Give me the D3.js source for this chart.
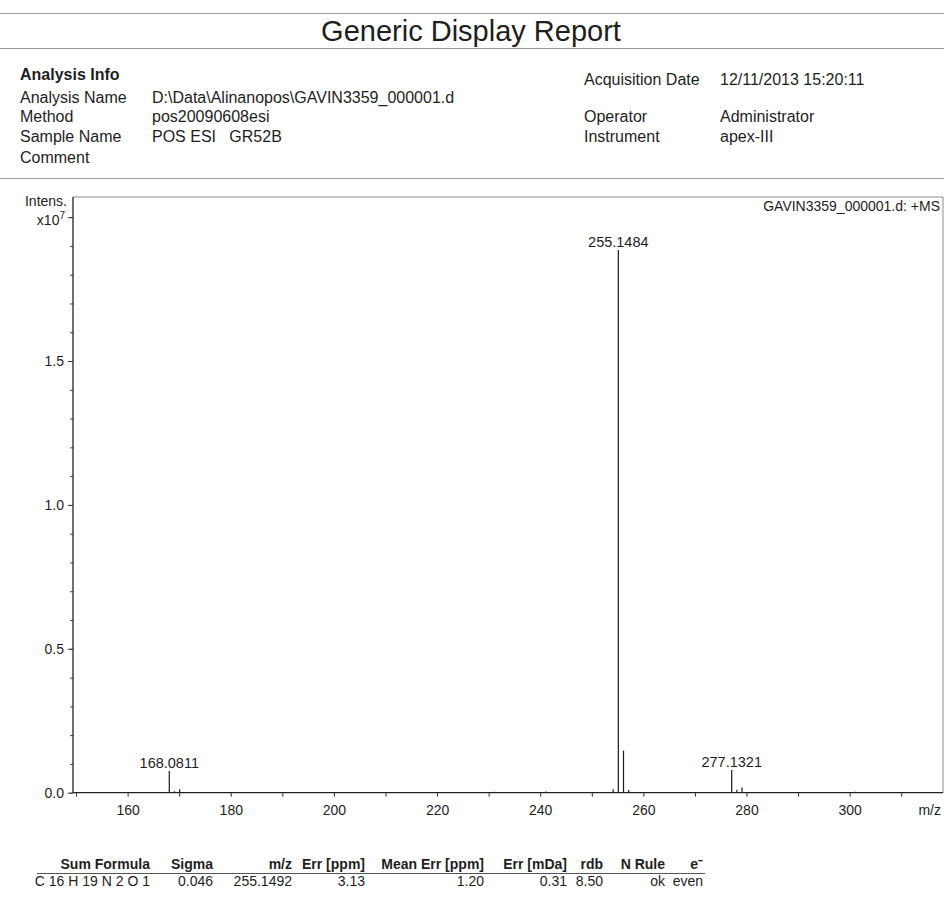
<!DOCTYPE html>
<html>
<head>
<meta charset="utf-8">
<script src="https://cdn.jsdelivr.net/npm/d3@7/dist/d3.min.js"></script>
<style>
  html, body { margin: 0; padding: 0; background: #fff; }
  svg { display: block; font-family: "Liberation Sans", Arial, Helvetica, sans-serif; }
  text { fill: #1e1e1e; }
</style>
</head>
<body>
<svg id="report" width="944" height="907"></svg>
<script>
// ---- Report metadata ----
const reportTitle = "Generic Display Report";
const infoLeftLabels = ["Analysis Name", "Method", "Sample Name", "Comment"];
const infoLeftValues = ["D:\\Data\\Alinanopos\\GAVIN3359_000001.d", "pos20090608esi", "POS ESI   GR52B", ""];
const infoRightLabels = ["Acquisition Date", "Operator", "Instrument"];
const infoRightValues = ["12/11/2013 15:20:11", "Administrator", "apex-III"];
const spectrumTitle = "GAVIN3359_000001.d: +MS";

// ---- Spectrum data (m/z, intensity in units of 1e7) ----
const peakMz        = [168.0811, 169.084, 170.085, 231.0, 241.1, 254.14, 255.1484, 256.152, 257.155, 277.1321, 278.135, 279.130, 301.1];
const peakIntensity = [0.075,    0.005,   0.012,   0.003, 0.004, 0.012,  1.886,    0.146,   0.009,   0.079,    0.010,   0.018,   0.003];
const labelledPeaks = [168.0811, 255.1484, 277.1321];

// ---- Axis ticks ----
const xTickValues = d3.range(150, 311, 10);
const xLabelValues = [160, 180, 200, 220, 240, 260, 280, 300];
const yMajorTicks = [0, 0.5, 1.0, 1.5, 2.0];
const yMinorTicks = d3.range(0, 2.01, 0.1).map(v => +v.toFixed(1));

// ---- Formula table ----
const tableHeaders = ["Sum Formula", "Sigma", "m/z", "Err [ppm]", "Mean Err [ppm]", "Err [mDa]", "rdb", "N Rule", "e\u207B"];
const tableRow = ["C 16 H 19 N 2 O 1", "0.046", "255.1492", "3.13", "1.20", "0.31", "8.50", "ok", "even"];

const svg = d3.select("#report");
svg.append("rect").attr("width", 944).attr("height", 907).attr("fill", "#fff");

// ---- Page header ----
const rule = (y, x1 = 0, x2 = 944) => svg.append("line")
  .attr("x1", x1).attr("x2", x2).attr("y1", y).attr("y2", y)
  .attr("stroke", "#9a9a9a").attr("stroke-width", 1);

rule(13.5);
svg.append("text").attr("x", 471).attr("y", 41).attr("text-anchor", "middle")
  .attr("font-size", 29).text(reportTitle);
rule(48.5);

svg.append("text").attr("x", 20).attr("y", 80).attr("font-size", 16)
  .attr("font-weight", "bold").text("Analysis Info");

const infoRowY = [103, 122, 142, 163];
infoLeftLabels.forEach((lab, i) => {
  svg.append("text").attr("x", 20).attr("y", infoRowY[i]).attr("font-size", 16).text(lab);
  svg.append("text").attr("x", 152).attr("y", infoRowY[i]).attr("font-size", 16)
    .attr("xml:space", "preserve").style("white-space", "pre").text(infoLeftValues[i]);
});
const infoRightY = [85, 122, 142];
infoRightLabels.forEach((lab, i) => {
  svg.append("text").attr("x", 584).attr("y", infoRightY[i]).attr("font-size", 16).text(lab);
  svg.append("text").attr("x", 720).attr("y", infoRightY[i]).attr("font-size", 16).text(infoRightValues[i]);
});
rule(178.5);

// ---- Spectrum plot ----
const plot = { left: 73, right: 943, top: 197, bottom: 792.7 };
const x = d3.scaleLinear().domain([149.41, 318.1]).range([plot.left, plot.right]);
const y = d3.scaleLinear().domain([0, 2.07]).range([plot.bottom, plot.top]);

// frame: grey top and right edges
svg.append("path")
  .attr("d", `M${plot.left},${plot.top}H${plot.right}V${plot.bottom}`)
  .attr("fill", "none").attr("stroke", "#8c8c8c").attr("stroke-width", 1);

// peaks as sticks
const peaks = peakMz.map((mz, i) => ({ mz, v: peakIntensity[i] }));
svg.append("g").selectAll("line").data(peaks).join("line")
  .attr("x1", d => x(d.mz)).attr("x2", d => x(d.mz))
  .attr("y1", y(0)).attr("y2", d => y(d.v))
  .attr("stroke", "#1a1a1a").attr("stroke-width", 1.2);

// peak labels
svg.append("g").selectAll("text").data(peaks.filter(d => labelledPeaks.includes(d.mz))).join("text")
  .attr("x", d => x(d.mz)).attr("y", d => y(d.v) - 3)
  .attr("text-anchor", "middle").attr("font-size", 14.5)
  .text(d => d.mz.toFixed(4));

// x axis
const xAxis = d3.axisBottom(x).tickValues(xTickValues).tickSize(4).tickPadding(8)
  .tickFormat(d => xLabelValues.includes(d) ? d3.format("d")(d) : "");
const gx = svg.append("g").attr("transform", `translate(0,${plot.bottom})`).call(xAxis);
gx.select(".domain").attr("d", `M${plot.left},0H${plot.right}`).attr("stroke", "#222").attr("stroke-width", 1.3);
gx.selectAll(".tick line").attr("stroke", "#333");
gx.selectAll(".tick text").attr("font-size", 14).attr("font-family", null).attr("fill", "#1e1e1e");
svg.append("text").attr("x", 941).attr("y", plot.bottom + 22).attr("text-anchor", "end")
  .attr("font-size", 14).text("m/z");

// y axis: minor ticks then major ticks with labels
const gyMinor = svg.append("g").attr("transform", `translate(${plot.left},0)`)
  .call(d3.axisLeft(y).tickValues(yMinorTicks).tickSize(3).tickFormat(""));
gyMinor.select(".domain").remove();
gyMinor.selectAll(".tick line").attr("stroke", "#444");

const gy = svg.append("g").attr("transform", `translate(${plot.left},0)`)
  .call(d3.axisLeft(y).tickValues(yMajorTicks).tickSize(5).tickPadding(4)
    .tickFormat(d => d === 2 ? "" : d3.format(".1f")(d)));
gy.select(".domain").attr("d", `M0,${plot.top}V${plot.bottom}`).attr("stroke", "#222").attr("stroke-width", 1.3);
gy.selectAll(".tick line").attr("stroke", "#333");
gy.selectAll(".tick text").attr("font-size", 14).attr("font-family", null).attr("fill", "#1e1e1e");

// exponent label at the top major tick
const expLabel = svg.append("text").attr("x", plot.left - 8).attr("y", y(2.0) + 8)
  .attr("text-anchor", "end").attr("font-size", 14);
expLabel.append("tspan").text("x10");
expLabel.append("tspan").attr("dy", -6).attr("font-size", 10).text("7");
svg.append("text").attr("x", plot.left - 6).attr("y", 206).attr("text-anchor", "end")
  .attr("font-size", 14).text("Intens.");

svg.append("text").attr("x", 940).attr("y", 211).attr("text-anchor", "end")
  .attr("font-size", 14).text(spectrumTitle);

// ---- Formula table ----
const colRight = [150, 213, 292, 365, 484, 567, 603, 665, 703];
const table = svg.append("g");
table.selectAll("text.h").data(tableHeaders).join("text").attr("class", "h")
  .attr("x", (d, i) => colRight[i]).attr("y", 869).attr("text-anchor", "end")
  .attr("font-size", 14).attr("font-weight", "bold").text(d => d);
table.append("line").attr("x1", 37).attr("x2", 705).attr("y1", 873.5).attr("y2", 873.5)
  .attr("stroke", "#555").attr("stroke-width", 1);
table.selectAll("text.r").data(tableRow).join("text").attr("class", "r")
  .attr("x", (d, i) => colRight[i]).attr("y", 886).attr("text-anchor", "end")
  .attr("font-size", 14).text(d => d);
</script>
</body>
</html>
